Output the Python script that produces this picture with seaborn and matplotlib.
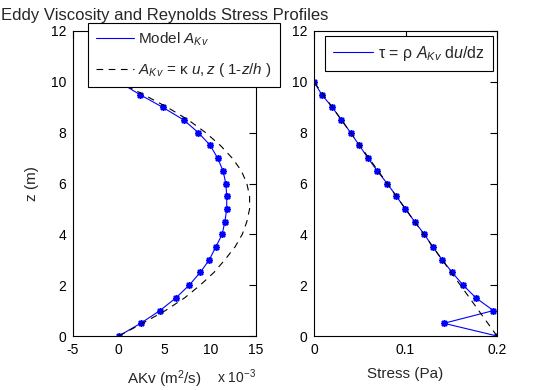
import numpy as np
import pandas as pd
import matplotlib
matplotlib.use('Agg')
import matplotlib.pyplot as plt
from matplotlib.lines import Line2D
import seaborn as sns

# depth levels (m)
z = [0.0, 0.5, 1.0, 1.5, 2.0, 2.5, 3.0, 3.5, 4.0, 4.5, 5.0,
     5.5, 6.0, 6.5, 7.0, 7.5, 8.0, 8.5, 9.0, 9.5, 10.0]

# eddy viscosity, units of 1e-3 m^2/s
model_akv = [0.0, 2.4, 4.5, 6.25, 7.7, 8.9, 9.9, 10.6, 11.3, 11.6, 11.8,
             11.8, 11.7, 11.4, 10.8, 10.0, 8.7, 7.1, 4.8, 2.3, 0.0]
theory_akv = [0.0, 2.6, 5.1, 7.2, 8.9, 10.4, 11.6, 12.7, 13.5, 14.0, 14.3,
              14.3, 14.0, 13.4, 12.4, 11.1, 9.5, 7.6, 5.3, 2.7, 0.0]

# Reynolds stress (Pa)
stress = [0.2, 0.142, 0.196, 0.177, 0.163, 0.151, 0.140, 0.130, 0.1206, 0.110, 0.0998,
          0.090, 0.080, 0.069, 0.059, 0.0495, 0.040, 0.030, 0.020, 0.0084, 0.0]
stress_lin_z = [0.0, 10.0]
stress_lin = [0.2, 0.0]

sns.set_style('white')
plt.rcParams['font.family'] = ['Liberation Sans', 'DejaVu Sans']
plt.rcParams['mathtext.fontset'] = 'custom'
plt.rcParams['mathtext.rm'] = 'Liberation Sans'
plt.rcParams['mathtext.it'] = 'Liberation Sans:italic'
plt.rcParams['axes.unicode_minus'] = False

fig = plt.figure(figsize=(5.5, 3.9), dpi=100)
ax1 = fig.add_axes([73/550, 54/390, 183/550, 305/390])
ax2 = fig.add_axes([314/550, 54/390, 183/550, 305/390])

star = (8, 2, 0)  # matlab-like asterisk
dash = (0, (6, 5))


def add_stars(ax):
    ln = ax.lines[-1]
    ln.set_marker(star)
    ln.set_markersize(5)
    ln.set_markeredgewidth(1.1)
    ln.set_markeredgecolor('blue')


# left panel: eddy viscosity
sns.lineplot(x=model_akv, y=z, sort=False, estimator=None, color='blue', lw=0.8, ax=ax1)
add_stars(ax1)
sns.lineplot(x=theory_akv, y=z, sort=False, estimator=None, color='black', lw=0.8,
             linestyle=dash, ax=ax1)

# right panel: stress
sns.lineplot(x=stress, y=z, sort=False, estimator=None, color='blue', lw=0.8, ax=ax2)
add_stars(ax2)
sns.lineplot(x=stress_lin, y=stress_lin_z, sort=False, estimator=None, color='black', lw=0.8,
             linestyle=dash, ax=ax2)

ax1.set_xlim(-5, 15)
ax1.set_xticks([-5, 0, 5, 10, 15])
ax2.set_xlim(0, 0.2)
ax2.set_xticks([0, 0.1, 0.2])
ax2.set_xticklabels(['0', '0.1', '0.2'])
for ax in (ax1, ax2):
    ax.set_ylim(0, 12)
    ax.set_yticks([0, 2, 4, 6, 8, 10, 12])
    ax.tick_params(direction='in', top=True, right=True, length=5, width=0.8,
                   labelsize=10, pad=5, colors='black')
    for s in ax.spines.values():
        s.set_color('black')
        s.set_linewidth(0.8)

ax1.set_title('Eddy Viscosity and Reynolds Stress Profiles', fontsize=12, pad=8)
ax1.set_ylabel('z (m)', fontsize=11, labelpad=8)
ax1.set_xlabel('AKv (m$^2$/s)', fontsize=11, labelpad=8)
ax1.text(1.0, -0.154, r'x 10$^{-3}$', transform=ax1.transAxes, ha='right',
         va='baseline', fontsize=10)
ax2.set_xlabel('Stress (Pa)', fontsize=11, labelpad=7)

h1 = [Line2D([], [], color='blue', lw=0.8),
      Line2D([], [], color='black', lw=0.8, linestyle=dash)]
l1 = ['Model $A_{Kv}$', r'$A_{Kv}$ = κ $u, z$ ( $\mathit{1}$-$z/h$ )']
leg1 = ax1.legend(h1, l1, loc='upper left', bbox_to_anchor=(0.082, 1.026),
                  borderaxespad=0, fancybox=False, edgecolor='black', framealpha=1,
                  fontsize=11, handlelength=2.5, handletextpad=0.3,
                  labelspacing=0.85, borderpad=0.5)
leg1.get_frame().set_linewidth(0.8)
leg1.set_zorder(10)

h2 = [Line2D([], [], color='blue', lw=0.8)]
l2 = ['τ = ρ $A_{Kv}$ d$u$/dz']
leg2 = ax2.legend(h2, l2, loc='upper left', bbox_to_anchor=(0.06, 0.984),
                  borderaxespad=0, fancybox=False, edgecolor='black', framealpha=1,
                  fontsize=11.5, handlelength=2.5, handletextpad=0.3, borderpad=0.5)
leg2.get_frame().set_linewidth(0.8)

fig.savefig('out.png', dpi=100)
